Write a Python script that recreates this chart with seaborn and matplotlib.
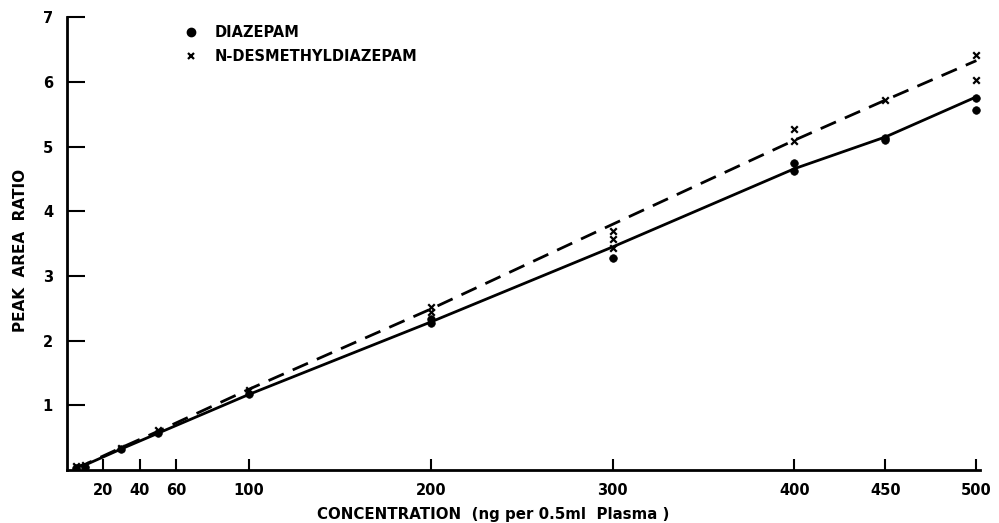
import matplotlib
matplotlib.use("Agg")
import matplotlib.pyplot as plt
from matplotlib.lines import Line2D
import seaborn as sns
import pandas as pd

sns.set_theme(style="white")
plt.rcParams['font.family'] = ['DejaVu Sans']
plt.rcParams['text.color'] = 'black'

# fitted (drawn) curves
line_conc = [5, 10, 30, 50, 100, 200, 300, 400, 450, 500]
diazepam_line = [0.05, 0.08, 0.33, 0.57, 1.17, 2.29, 3.45, 4.66, 5.15, 5.77]
desmethyl_line = [0.05, 0.09, 0.35, 0.60, 1.25, 2.49, 3.80, 5.10, 5.72, 6.33]

# individual measurements
diazepam_x = [5, 10, 30, 50, 100, 200, 200, 300, 400, 400, 450, 450, 500, 500]
diazepam_y = [0.04, 0.05, 0.33, 0.57, 1.17, 2.28, 2.33, 3.28, 4.62, 4.74, 5.10, 5.14, 5.57, 5.75]
desmethyl_x = [5, 10, 30, 50, 100, 200, 200, 300, 300, 300, 400, 400, 450, 500, 500]
desmethyl_y = [0.06, 0.08, 0.35, 0.62, 1.24, 2.45, 2.52, 3.43, 3.57, 3.70, 5.08, 5.28, 5.72, 6.03, 6.42]

x_ticks = [20, 40, 60, 100, 200, 300, 400, 450, 500]
y_ticks = [1, 2, 3, 4, 5, 6, 7]

fig = plt.figure(figsize=(9.99, 5.23), dpi=100)
ax = fig.add_axes([0.067, 0.101, 0.914, 0.866])

lines_df = pd.DataFrame({"conc": line_conc, "dia": diazepam_line, "des": desmethyl_line})
sns.lineplot(data=lines_df, x="conc", y="dia", ax=ax, color="black", lw=2.0)
sns.lineplot(data=lines_df, x="conc", y="des", ax=ax, color="black", lw=2.0,
             linestyle=(0, (6, 3.5)))

sns.scatterplot(x=diazepam_x, y=diazepam_y, ax=ax, marker="o", s=30,
                color="black", edgecolor="black", linewidth=0.5, zorder=5)
sns.scatterplot(x=desmethyl_x, y=desmethyl_y, ax=ax, marker="x", s=22,
                color="black", linewidth=1.6, zorder=5)

ax.set_xlim(0, 502)
ax.set_ylim(0, 7)
ax.set_xticks(x_ticks)
ax.set_xticklabels([str(t) for t in x_ticks], fontsize=10.5, fontweight="bold")
ax.set_yticks(y_ticks)
ax.set_yticklabels([str(t) for t in y_ticks], fontsize=10.5, fontweight="bold")
ax.tick_params(axis="x", bottom=True, direction="in", length=8, width=1.5, pad=9, colors="black")
ax.tick_params(axis="y", left=True, direction="in", length=13, width=1.5, pad=10, colors="black")
for s in ["top", "right"]:
    ax.spines[s].set_visible(False)
for s in ["left", "bottom"]:
    ax.spines[s].set_color("black")
    ax.spines[s].set_linewidth(2.0)
ax.set_xlabel("")
ax.set_ylabel("")

fig.text(0.494, 0.002, "CONCENTRATION  (ng per 0.5ml  Plasma )", ha="center", va="bottom",
         fontsize=10.8, fontweight="bold", color="black")
fig.text(0.021, 0.522, "PEAK  AREA  RATIO", rotation=90, ha="center", va="center",
         fontsize=11, fontweight="bold", color="black")

handles = [
    Line2D([], [], marker="o", color="black", linestyle="none", markersize=6),
    Line2D([], [], marker="x", color="black", linestyle="none", markersize=5, markeredgewidth=1.6),
]
ax.legend(handles, ["DIAZEPAM", "N-DESMETHYLDIAZEPAM"], loc="upper left",
          bbox_to_anchor=(0.115, 1.012), frameon=False, handlelength=0.8,
          handletextpad=1.2, labelspacing=0.6, prop={"size": 10.5, "weight": "bold"},
          labelcolor="black")

fig.savefig("out.png", dpi=100, facecolor="white")
